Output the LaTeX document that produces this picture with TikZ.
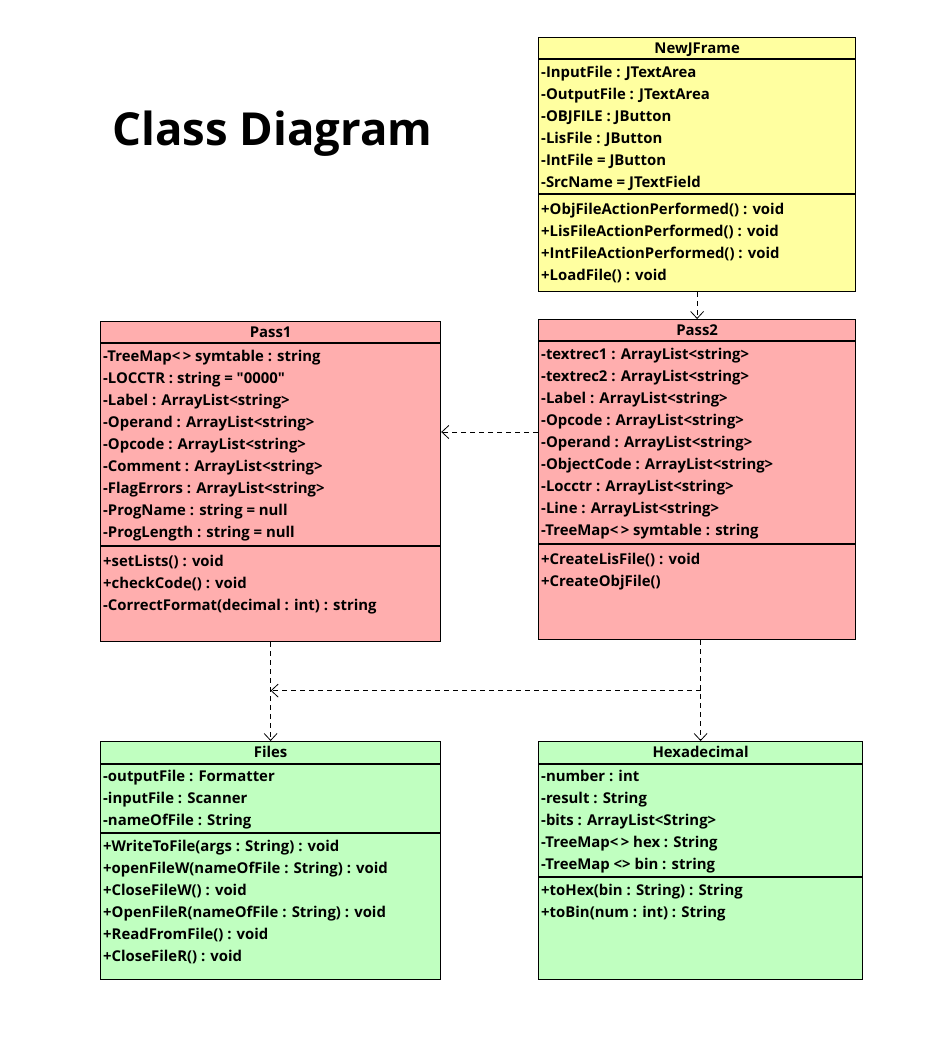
\documentclass[tikz,border=0pt]{standalone}
\usepackage{fontspec}
\setmainfont{Open Sans}
\newfontfamily\plana{Open Sans}
\usepackage{tikz}
\usetikzlibrary{positioning,arrows.meta,calc}
\definecolor{amarillo}{RGB}{255,255,160}
\definecolor{rosa}{RGB}{255,174,174}
\definecolor{verde}{RGB}{192,255,192}
\newcommand{\arranque}{\rule{0pt}{12pt}}
\newcommand{\comilla}{{\plana\bfseries"}}

\begin{document}
\begin{tikzpicture}[
    x=1pt, y=-1pt,
    font=\bfseries\fontsize{14.9}{22}\selectfont,
    clase/.style={rectangle, draw, line width=1.2pt, anchor=north west, inner sep=0pt},
    nombre/.style={anchor=base, inner sep=0pt},
    campos/.style={anchor=north west, inner sep=0pt, align=left},
    dep/.style={draw, line width=0.8pt, dash pattern=on 5pt off 4pt,
      -{Straight Barb[length=7pt, width=13pt]}}
  ]
    \useasboundingbox (0,0) rectangle (948,1052);

    \node[anchor=base west, inner sep=0pt, font=\bfseries\fontsize{45.5}{46}\selectfont]
      (titulo) at (112,145) {Class Diagram};

    % NewJFrame
    \node[clase, fill=amarillo, minimum width=317pt, minimum height=254pt] (frame) at (538,37) {};
    \node[nombre] (framenom) at ($(frame.north)+(0,16)$) {NewJFrame};
    \node[campos] (frameatr) at ($(frame.north west)+(3,28)$) {\arranque-InputFile : JTextArea\\
      -OutputFile : JTextArea\\ -OBJFILE : JButton\\ -LisFile : JButton\\
      -IntFile = JButton\\ -SrcName = JTextField};
    \node[campos] (framemet) at ($(frame.north west)+(3,165)$) {\arranque+ObjFileActionPerformed() : void\\
      +LisFileActionPerformed() : void\\ +IntFileActionPerformed() : void\\
      +LoadFile() : void};
    \draw[line width=1.2pt] ($(frame.north west)+(0,22)$) -- ($(frame.north east)+(0,22)$);
    \draw[line width=1.2pt] ($(frame.north west)+(0,157)$) -- ($(frame.north east)+(0,157)$);

    % Pass1
    \node[clase, fill=rosa, minimum width=340pt, minimum height=320pt] (pass1) at (100,321) {};
    \node[nombre] (pass1nom) at ($(pass1.north)+(0,16)$) {Pass1};
    \node[campos] (pass1atr) at ($(pass1.north west)+(3,28)$) {\arranque-TreeMap<\,> symtable : string\\
      -LOCCTR : string = \comilla0000\comilla\\ -Label : ArrayList<string>\\ -Operand : ArrayList<string>\\
      -Opcode : ArrayList<string>\\ -Comment : ArrayList<string>\\
      -FlagErrors : ArrayList<string>\\ -ProgName : string = null\\
      -ProgLength : string = null};
    \node[campos] (pass1met) at ($(pass1.north west)+(3,233)$) {\arranque+setLists() : void\\
      +checkCode() : void\\ -CorrectFormat(decimal : int) : string};
    \draw[line width=1.2pt] ($(pass1.north west)+(0,22)$) -- ($(pass1.north east)+(0,22)$);
    \draw[line width=1.2pt] ($(pass1.north west)+(0,225)$) -- ($(pass1.north east)+(0,225)$);

    % Pass2
    \node[clase, fill=rosa, minimum width=317pt, minimum height=320pt] (pass2) at (538,319) {};
    \node[nombre] (pass2nom) at ($(pass2.north)+(0,16)$) {Pass2};
    \node[campos] (pass2atr) at ($(pass2.north west)+(3,28)$) {\arranque-textrec1 : ArrayList<string>\\
      -textrec2 : ArrayList<string>\\ -Label : ArrayList<string>\\ -Opcode : ArrayList<string>\\
      -Operand : ArrayList<string>\\ -ObjectCode : ArrayList<string>\\
      -Locctr : ArrayList<string>\\ -Line : ArrayList<string>\\
      -TreeMap<\,> symtable : string};
    \node[campos] (pass2met) at ($(pass2.north west)+(3,233)$) {\arranque+CreateLisFile() : void\\
      +CreateObjFile()};
    \draw[line width=1.2pt] ($(pass2.north west)+(0,22)$) -- ($(pass2.north east)+(0,22)$);
    \draw[line width=1.2pt] ($(pass2.north west)+(0,225)$) -- ($(pass2.north east)+(0,225)$);

    % Files
    \node[clase, fill=verde, minimum width=340pt, minimum height=238pt] (files) at (100,741) {};
    \node[nombre] (filesnom) at ($(files.north)+(0,16)$) {Files};
    \node[campos] (filesatr) at ($(files.north west)+(3,28)$) {\arranque-outputFile : Formatter\\
      -inputFile : Scanner\\ -nameOfFile : String};
    \node[campos] (filesmet) at ($(files.north west)+(3,98)$) {\arranque+WriteToFile(args : String) : void\\
      +openFileW(nameOfFile : String) : void\\ +CloseFileW() : void\\
      +OpenFileR(nameOfFile : String) : void\\ +ReadFromFile() : void\\
      +CloseFileR() : void};
    \draw[line width=1.2pt] ($(files.north west)+(0,23)$) -- ($(files.north east)+(0,23)$);
    \draw[line width=1.2pt] ($(files.north west)+(0,92)$) -- ($(files.north east)+(0,92)$);

    % Hexadecimal
    \node[clase, fill=verde, minimum width=324pt, minimum height=238pt] (hexa) at (538,741) {};
    \node[nombre] (hexanom) at ($(hexa.north)+(0,16)$) {Hexadecimal};
    \node[campos] (hexaatr) at ($(hexa.north west)+(3,28)$) {\arranque-number : int\\
      -result : String\\ -bits : ArrayList<String>\\ -TreeMap<\,> hex : String\\
      -TreeMap <> bin : string};
    \node[campos] (hexamet) at ($(hexa.north west)+(3,142)$) {\arranque+toHex(bin : String) : String\\
      +toBin(num : int) : String};
    \draw[line width=1.2pt] ($(hexa.north west)+(0,23)$) -- ($(hexa.north east)+(0,23)$);
    \draw[line width=1.2pt] ($(hexa.north west)+(0,136)$) -- ($(hexa.north east)+(0,136)$);

    \draw[dep] (frame.south) -- (pass2.north);
    \draw[dep] ([yshift=-113pt]pass2.north west) coordinate (p2izq) -- (p2izq -| pass1.east);
    \draw[dep] (pass1.south) -- (files.north);
    \draw[dep] (pass2.south -| hexa.north) -- coordinate[pos=0.5] (cruce) (hexa.north);
    \draw[dep] (cruce) -- (cruce -| files.north);
  \end{tikzpicture}
\end{document}
